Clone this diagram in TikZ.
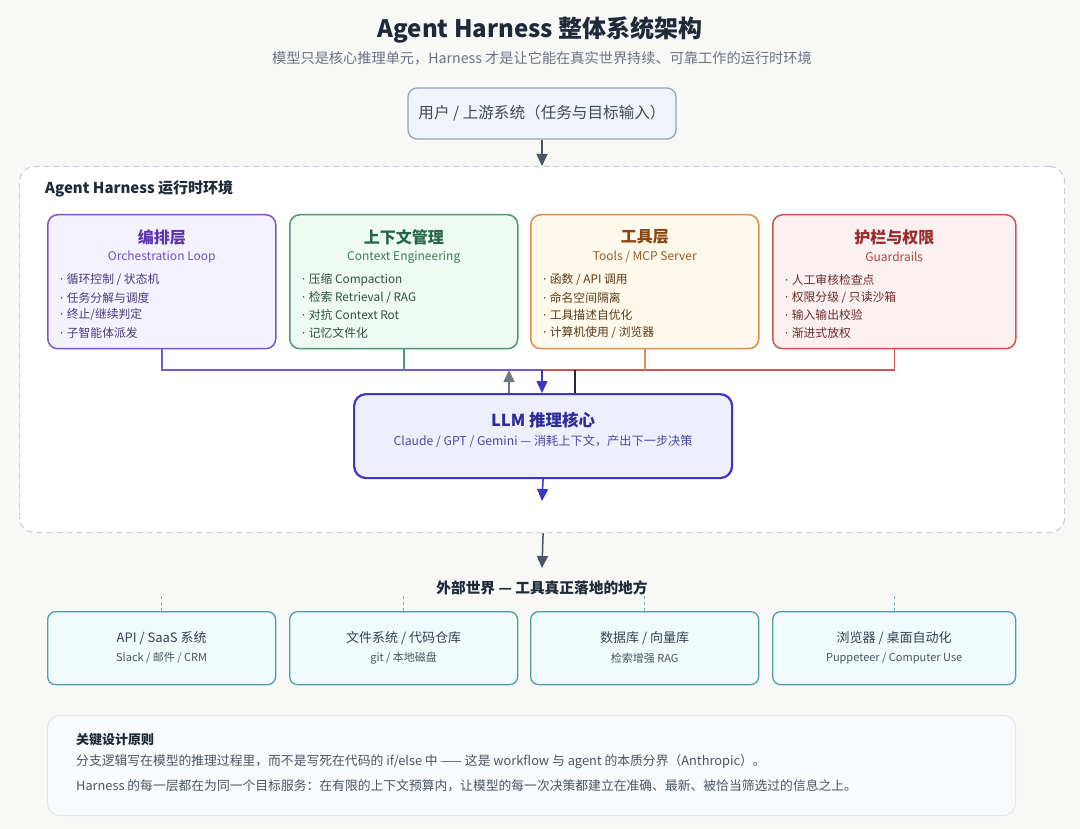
\documentclass[tikz,border=0pt]{standalone}
\usepackage{fontspec}
\setmainfont{Noto Sans CJK SC}
\newfontfamily\latinf{Noto Sans}
\usetikzlibrary{arrows.meta,calc}
\definecolor{bgc}{HTML}{F8F8F7}
\definecolor{titlec}{HTML}{1F2937}
\definecolor{subc}{HTML}{6B7280}
\definecolor{userfill}{HTML}{F1F4F9}
\definecolor{userdraw}{HTML}{94A3B8}
\definecolor{agray}{HTML}{4B5563}
\definecolor{hdraw}{HTML}{C9D1D9}
\definecolor{pdraw}{HTML}{7B55D8}\definecolor{pfill}{HTML}{F5F2FF}\definecolor{ptitle}{HTML}{5B34B0}\definecolor{psub}{HTML}{6D4FC2}\definecolor{ptext}{HTML}{4A3A7A}
\definecolor{gdraw}{HTML}{4E9A70}\definecolor{gfill}{HTML}{EEFAF3}\definecolor{gtitle}{HTML}{276749}\definecolor{gsub}{HTML}{3E7D5A}\definecolor{gtext}{HTML}{2F4F3F}
\definecolor{odraw}{HTML}{D9904A}\definecolor{ofill}{HTML}{FFF9EC}\definecolor{otitle}{HTML}{8B4513}\definecolor{osub}{HTML}{9A5B25}\definecolor{otext}{HTML}{5A3A1A}
\definecolor{rdraw}{HTML}{D35454}\definecolor{rfill}{HTML}{FDF0F0}\definecolor{rtitle}{HTML}{982B2B}\definecolor{rsub}{HTML}{B04545}\definecolor{rtext}{HTML}{6A2A2A}
\definecolor{ldraw}{HTML}{3B36C8}\definecolor{lfill}{HTML}{EEEFFD}\definecolor{ltitle}{HTML}{2F2C9A}\definecolor{lsub}{HTML}{4A47A8}
\definecolor{edraw}{HTML}{4C9DAD}\definecolor{efill}{HTML}{EFFBFC}\definecolor{etitle}{HTML}{374151}\definecolor{esub}{HTML}{4B5563}
\definecolor{bfill}{HTML}{F9FAFB}\definecolor{bdraw}{HTML}{E2E6EA}\definecolor{btext}{HTML}{4B5563}
\newcommand{\fs}[1]{\fontsize{#1}{#1}\selectfont}
\newcommand{\bdot}{{\latinf ·}\hspace{3.5pt}}
\tikzset{
  card/.style={draw=#1draw, fill=#1fill, line width=1.5pt, rounded corners=10pt, minimum width=228pt, minimum height=134pt, anchor=north west, inner sep=0pt},
  cardtitle/.style={font=\fs{16}\bfseries, text=#1title, inner sep=0pt},
  cardsub/.style={font=\fs{12}, text=#1sub, inner sep=0pt},
  cardbul/.style={font=\fs{11.8}, text=#1text, inner sep=0pt, anchor=west},
  extbox/.style={draw=edraw, fill=efill, line width=1.3pt, rounded corners=8pt, minimum width=228pt, minimum height=73pt, anchor=north west, inner sep=0pt},
  exttitle/.style={font=\fs{13}, text=etitle, inner sep=0pt},
  extsub/.style={font=\fs{11}, text=esub, inner sep=0pt},
  tip/.style={-{Triangle[length=12pt,width=11pt]}},
  conn/.style={line width=1.5pt},
}
\begin{document}
\begin{tikzpicture}[x=1pt,y=-1pt]
\useasboundingbox[fill=bgc] (0,0) rectangle (1080,829);

% title
\node[font=\fs{24}\bfseries, text=titlec, inner sep=0pt] (title) at (540,30) {Agent Harness 整体系统架构};
\node[font=\fs{14.2}, text=subc, inner sep=0pt] (subtitle) at (542,58) {模型只是核心推理单元，Harness 才是让它能在真实世界持续、可靠工作的运行时环境};

% user box
\node[draw=userdraw, fill=userfill, line width=1.3pt, rounded corners=9pt, minimum width=268pt, minimum height=51pt, inner sep=0pt, font=\fs{15.6}, text=titlec!85] (user) at (542,113.5) {用户 / 上游系统（任务与目标输入）};

% harness box
\node[draw=hdraw, fill=white, line width=1.2pt, dash pattern=on 6pt off 4pt, rounded corners=15pt, minimum width=1045pt, minimum height=366pt, anchor=north west, inner sep=0pt] (harness) at (19,166) {};
\node[font=\fs{15}\bfseries, text=titlec, anchor=west, inner sep=0pt] (hlabel) at (45,189) {Agent Harness 运行时环境};

\draw[conn, agray, tip] (user.south) -- (user.south |- harness.north);

% cards
\node[card=p] (c1) at (47,214) {};
\node[card=g] (c2) at (289,214) {};
\node[card=o] (c3) at (530,214) {};
\node[card=r, minimum width=243pt] (c4) at (772,214) {};

\node[cardtitle=p] (c1t) at ($(c1.north)+(0,23)$) {编排层};
\node[cardsub=p] (c1s) at ($(c1.north)+(0,43)$) {Orchestration Loop};
\node[cardbul=p] (c1b1) at ($(c1.north west)+(13,66)$) {\bdot 循环控制 / 状态机};
\node[cardbul=p] (c1b2) at ($(c1.north west)+(13,84)$) {\bdot 任务分解与调度};
\node[cardbul=p] (c1b3) at ($(c1.north west)+(13,101)$) {\bdot 终止/继续判定};
\node[cardbul=p] (c1b4) at ($(c1.north west)+(13,119)$) {\bdot 子智能体派发};

\node[cardtitle=g] (c2t) at ($(c2.north)+(0,23)$) {上下文管理};
\node[cardsub=g] (c2s) at ($(c2.north)+(0,43)$) {Context Engineering};
\node[cardbul=g] (c2b1) at ($(c2.north west)+(13,66)$) {\bdot 压缩 Compaction};
\node[cardbul=g] (c2b2) at ($(c2.north west)+(13,84)$) {\bdot 检索 Retrieval / RAG};
\node[cardbul=g] (c2b3) at ($(c2.north west)+(13,101)$) {\bdot 对抗 Context Rot};
\node[cardbul=g] (c2b4) at ($(c2.north west)+(13,119)$) {\bdot 记忆文件化};

\node[cardtitle=o] (c3t) at ($(c3.north)+(0,23)$) {工具层};
\node[cardsub=o] (c3s) at ($(c3.north)+(0,43)$) {Tools / MCP Server};
\node[cardbul=o] (c3b1) at ($(c3.north west)+(13,66)$) {\bdot 函数 / API 调用};
\node[cardbul=o] (c3b2) at ($(c3.north west)+(13,84)$) {\bdot 命名空间隔离};
\node[cardbul=o] (c3b3) at ($(c3.north west)+(13,101)$) {\bdot 工具描述自优化};
\node[cardbul=o] (c3b4) at ($(c3.north west)+(13,119)$) {\bdot 计算机使用 / 浏览器};

\node[cardtitle=r] (c4t) at ($(c4.north)+(0,23)$) {护栏与权限};
\node[cardsub=r] (c4s) at ($(c4.north)+(0,43)$) {Guardrails};
\node[cardbul=r] (c4b1) at ($(c4.north west)+(13,66)$) {\bdot 人工审核检查点};
\node[cardbul=r] (c4b2) at ($(c4.north west)+(13,84)$) {\bdot 权限分级 / 只读沙箱};
\node[cardbul=r] (c4b3) at ($(c4.north west)+(13,101)$) {\bdot 输入输出校验};
\node[cardbul=r] (c4b4) at ($(c4.north west)+(13,119)$) {\bdot 渐进式放权};

% LLM core
\node[draw=ldraw, fill=lfill, line width=2.2pt, rounded corners=12pt, minimum width=378pt, minimum height=84pt, anchor=north west, inner sep=0pt] (llm) at (353,393) {};
\node[font=\fs{16.5}\bfseries, text=ltitle, inner sep=0pt] (llmt) at ($(llm.north)+(0,27)$) {LLM 推理核心};
\node[font=\fs{12.2}, text=lsub, inner sep=0pt] (llms) at ($(llm.north)+(0,48)$) {Claude / GPT / Gemini — 消耗上下文，产出下一步决策};

% bus connectors
\coordinate (bus) at (542,370);
\coordinate (up) at (509,370);
\coordinate (rt) at (575,370);
\draw[conn, pdraw] (c1.south) |- (bus);
\draw[conn, gdraw] (c2.south) -- (c2.south |- bus);
\draw[conn, rdraw] (c4.south) |- (bus);
\draw[conn, odraw] (c3.south) -- (c3.south |- bus);
\draw[conn, ldraw, tip] (bus) -- (bus |- llm.north);
\draw[conn, agray!80, tip] (up |- llm.north) -- (up);
\draw[conn, titlec] (rt) -- (rt |- llm.north);

% LLM down arrow
\coordinate (llmout) at (542,501);
\draw[conn, ldraw, tip] (llm.south) -- (llmout);

% harness to external
\coordinate (extarrow) at (542,568);
\draw[conn, agray, tip] (harness.south -| llm.south) -- (extarrow);
\node[font=\fs{14.7}\bfseries, text=titlec, inner sep=0pt] (extlabel) at (542,588) {外部世界 — 工具真正落地的地方};

% external boxes
\node[extbox] (e1) at (47,611) {};
\node[extbox] (e2) at (289,611) {};
\node[extbox] (e3) at (530,611) {};
\node[extbox, minimum width=243pt] (e4) at (772,611) {};
\foreach \e in {e1,e2,e3,e4}{
  \draw[line width=1pt, edraw!80, dash pattern=on 3pt off 3pt] (\e.north) -- ++(0,-17);
}
\node[exttitle] (e1t) at ($(e1.north)+(0,27)$) {API / SaaS 系统};
\node[extsub] (e1s) at ($(e1.north)+(0,47)$) {Slack / 邮件 / CRM};
\node[exttitle] (e2t) at ($(e2.north)+(0,27)$) {文件系统 / 代码仓库};
\node[extsub] (e2s) at ($(e2.north)+(0,47)$) {git / 本地磁盘};
\node[exttitle] (e3t) at ($(e3.north)+(0,27)$) {数据库 / 向量库};
\node[extsub] (e3s) at ($(e3.north)+(0,47)$) {检索增强 RAG};
\node[exttitle] (e4t) at ($(e4.north)+(0,27)$) {浏览器 / 桌面自动化};
\node[extsub] (e4s) at ($(e4.north)+(0,47)$) {Puppeteer / Computer Use};

% bottom principles box
\node[draw=bdraw, fill=bfill, line width=1pt, rounded corners=12pt, minimum width=968pt, minimum height=100pt, anchor=north west, inner sep=0pt] (principles) at (47,715) {};
\node[font=\fs{13}\bfseries, text=titlec, anchor=west, inner sep=0pt] (pt) at ($(principles.north west)+(29,25)$) {关键设计原则};
\node[font=\fs{12.8}, text=btext, anchor=west, inner sep=0pt] (p1) at ($(principles.north west)+(29,47)$) {分支逻辑写在模型的推理过程里，而不是写死在代码的 if/else 中 —— 这是 workflow 与 agent 的本质分界（Anthropic）。};
\node[font=\fs{12.8}, text=btext, anchor=west, inner sep=0pt] (p2) at ($(principles.north west)+(29,71)$) {Harness 的每一层都在为同一个目标服务：在有限的上下文预算内，让模型的每一次决策都建立在准确、最新、被恰当筛选过的信息之上。};
\end{tikzpicture}
\end{document}
